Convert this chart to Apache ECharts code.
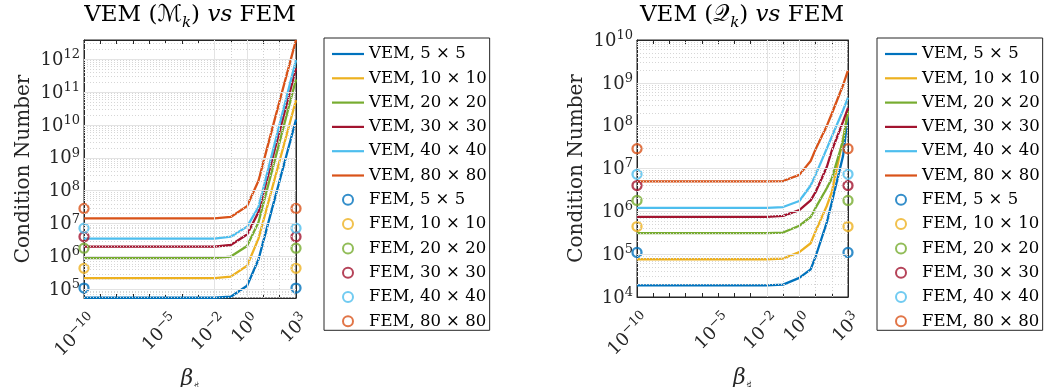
<!DOCTYPE html>
<html>
<head>
<meta charset="utf-8">
<script src="https://cdn.jsdelivr.net/npm/echarts@6/dist/echarts.min.js"></script>
<style>
  html, body { margin: 0; padding: 0; background: #fff; }
  #chart { width: 1045px; height: 387px; }
</style>
</head>
<body>
<div id="chart"></div>
<script>
// beta values on the x axis
const beta = [1e-10, 1e-2, 1e-1, 1, 5, 10, 50, 100, 500, 1000];
const meshes = ['5 × 5', '10 × 10', '20 × 20', '30 × 30', '40 × 40', '80 × 80'];
const colors = ['#0072BD', '#EDB120', '#77AC30', '#A2142F', '#4DBEEE', '#D95319'];

// VEM (M_k) condition numbers
const vemM5 = [5.6e4, 5.6e4, 6.0e4, 1.3e5, 8.1e5, 2.95e6, 5.75e7, 2.05e8, 4.0e9, 1.45e10];
const vemM10 = [2.2e5, 2.2e5, 2.45e5, 5.25e5, 3.5e6, 1.23e7, 2.35e8, 8.3e8, 1.6e10, 5.6e10];
const vemM20 = [8.9e5, 8.9e5, 1.0e6, 2.1e6, 1.1e7, 4.1e7, 8.5e8, 3.1e9, 6.5e10, 2.4e11];
const vemM30 = [2.0e6, 2.0e6, 2.24e6, 4.7e6, 2.24e7, 8.3e7, 1.8e9, 6.6e9, 1.4e11, 5.25e11];
const vemM40 = [3.5e6, 3.5e6, 4.0e6, 8.1e6, 3.2e7, 1.2e8, 2.75e9, 1.07e10, 2.45e11, 9.3e11];
const vemM80 = [1.45e7, 1.45e7, 1.6e7, 3.4e7, 2.0e8, 7.4e8, 1.5e10, 5.4e10, 1.05e12, 3.8e12];

// VEM (Q_k) condition numbers
const vemQ5 = [1.86e4, 1.86e4, 1.95e4, 2.8e4, 4.4e4, 8.7e4, 5.6e5, 1.6e6, 2.0e7, 1.8e8];
const vemQ10 = [7.6e4, 7.6e4, 7.9e4, 1.12e5, 1.8e5, 3.4e5, 1.35e6, 2.8e6, 5.0e7, 2.0e8];
const vemQ20 = [3.1e5, 3.1e5, 3.2e5, 4.6e5, 7.4e5, 1.2e6, 3.5e6, 5.8e6, 4.5e7, 2.25e8];
const vemQ30 = [7.4e5, 7.4e5, 7.8e5, 1.07e6, 1.8e6, 2.8e6, 1.1e7, 2.6e7, 1.26e8, 2.6e8];
const vemQ40 = [1.2e6, 1.2e6, 1.26e6, 1.74e6, 4.0e6, 7.1e6, 2.95e7, 5.5e7, 2.3e8, 4.5e8];
const vemQ80 = [5.0e6, 5.0e6, 5.1e6, 7.1e6, 1.5e7, 2.8e7, 1.0e8, 1.9e8, 8.9e8, 1.95e9];

// FEM condition numbers (same in both panels), shown at both ends
const femBeta = [1e-10, 1e3];
const fem = [1.1e5, 4.4e5, 1.8e6, 4.0e6, 7.3e6, 2.9e7];

// exponents that get a label on the x axis
const xTickExp = [-10, -5, -2, 0, 3];

const FONT = 'DejaVu Serif';
const TXT = '#262626';
const AX = '#262626';

const vemM = [vemM5, vemM10, vemM20, vemM30, vemM40, vemM80];
const vemQ = [vemQ5, vemQ10, vemQ20, vemQ30, vemQ40, vemQ80];

// 10^n labels: superscript raised with bottom padding
const tickRich = {
    b: { fontFamily: FONT, fontSize: 18, color: TXT, verticalAlign: 'bottom', lineHeight: 20 },
    s: { fontFamily: FONT, fontSize: 13, color: TXT, verticalAlign: 'bottom', lineHeight: 14, padding: [0, 0, 8, 0] }
};

function powLabel(v, keep) {
    const e = Math.log10(v);
    const r = Math.round(e);
    if (Math.abs(e - r) > 1e-6) return '';
    if (keep && keep.indexOf(r) < 0) return '';
    return '{b|10}{s|' + (r < 0 ? '−' + (-r) : r) + '}';
}

// light grid lines: solid at labelled x decades / y decades, dotted elsewhere
function gridLines(ymin, ymax) {
    const lines = [];
    for (let e = -9; e <= 2; e++) {
        const major = xTickExp.indexOf(e) >= 0;
        lines.push({
            xAxis: Math.pow(10, e),
            lineStyle: major ? { color: '#e3e3e3', width: 1, type: 'solid' } : { color: '#cfcfcf', width: 1, type: [1, 2] }
        });
    }
    const e0 = Math.floor(Math.log10(ymin));
    const e1 = Math.ceil(Math.log10(ymax));
    for (let e = e0; e <= e1; e++) {
        for (let m = 1; m <= 9; m++) {
            const v = m * Math.pow(10, e);
            if (v <= ymin * 1.001 || v >= ymax * 0.999) continue;
            lines.push({
                yAxis: v,
                lineStyle: m === 1 ? { color: '#e3e3e3', width: 1, type: 'solid' } : { color: '#d6d6d6', width: 1, type: [1, 2] }
            });
        }
    }
    return lines;
}

const panels = [
    { left: 84, width: 212, height: 258, ymin: 5.5e4, ymax: 3.8e12, vem: vemM, cx: 190,
      title: '{r|VEM (}{m|ℳ}{k|k}{r|) }{i|vs}{r| FEM}' },
    { left: 637, width: 211, height: 257, ymin: 1e4, ymax: 1e10, vem: vemQ, cx: 742,
      title: '{r|VEM (}{m|𝒬}{k|k}{r|) }{i|vs}{r| FEM}' }
];

const grids = [], xAxes = [], yAxes = [], series = [], graphics = [];
const legendData = [];
meshes.forEach(m => legendData.push({ name: 'VEM, ' + m, icon: 'path://M0,0 H32 V2.2 H0 Z' }));
meshes.forEach(m => legendData.push({ name: 'FEM, ' + m }));

panels.forEach((p, g) => {
    grids.push({
        left: p.left, top: 40, width: p.width, height: p.height, outerBoundsMode: 'none',
        show: true, borderColor: AX, borderWidth: 1, backgroundColor: '#fff'
    });
    const xi = xAxes.length, yi = yAxes.length;
    xAxes.push({
        type: 'log', logBase: 10, gridIndex: g, min: 1e-10, max: 1e3, interval: 1, position: 'bottom',
        axisLine: { lineStyle: { color: AX } },
        axisTick: { inside: true, length: 4, lineStyle: { color: AX } },
        axisLabel: { rotate: 45, margin: 10, padding: [26, 0, 0, 0], formatter: v => powLabel(v, xTickExp), rich: tickRich },
        splitLine: { show: false },
        name: '{i|β}{s|♯}', nameLocation: 'middle', nameGap: 72, nameMoveOverlap: false,
        nameTextStyle: { rich: {
            i: { fontFamily: FONT, fontStyle: 'italic', fontSize: 22, color: TXT, verticalAlign: 'bottom', lineHeight: 24, padding: [0, 0, 4, 0] },
            s: { fontFamily: FONT, fontSize: 13, color: TXT, verticalAlign: 'bottom', lineHeight: 14 }
        } }
    });
    xAxes.push({
        type: 'log', logBase: 10, gridIndex: g, min: 1e-10, max: 1e3, interval: 1, position: 'top',
        axisLine: { lineStyle: { color: AX } },
        axisTick: { inside: true, length: 4, lineStyle: { color: AX } },
        axisLabel: { show: false }, splitLine: { show: false }
    });
    yAxes.push({
        type: 'log', logBase: 10, gridIndex: g, min: p.ymin, max: p.ymax, position: 'left',
        axisLine: { lineStyle: { color: AX } },
        axisTick: { inside: true, length: 4, lineStyle: { color: AX } },
        axisLabel: { margin: 4, formatter: v => powLabel(v), rich: tickRich },
        splitLine: { show: false },
        name: 'Condition Number', nameLocation: 'middle', nameGap: 50, nameMoveOverlap: false,
        nameTextStyle: { fontFamily: FONT, fontSize: 20, color: TXT }
    });
    yAxes.push({
        type: 'log', logBase: 10, gridIndex: g, min: p.ymin, max: p.ymax, position: 'right',
        axisLine: { lineStyle: { color: AX } },
        axisTick: { inside: true, length: 4, lineStyle: { color: AX } },
        axisLabel: { show: false }, splitLine: { show: false }
    });

    // background grid
    series.push({
        type: 'line', name: 'grid' + g, xAxisIndex: xi, yAxisIndex: yi, data: [], z: 1, silent: true,
        markLine: { silent: true, symbol: ['none', 'none'], label: { show: false }, animation: false, data: gridLines(p.ymin, p.ymax) }
    });

    meshes.forEach((m, i) => {
        series.push({
            type: 'line', name: 'VEM, ' + m, xAxisIndex: xi, yAxisIndex: yi, z: 3,
            data: beta.map((b, j) => [b, p.vem[i][j]]),
            symbol: 'none', color: colors[i],
            lineStyle: { color: colors[i], width: 2.3 }
        });
    });
    meshes.forEach((m, i) => {
        series.push({
            type: 'scatter', name: 'FEM, ' + m, xAxisIndex: xi, yAxisIndex: yi, z: 4, clip: false,
            data: femBeta.map(b => [b, fem[i]]),
            symbol: 'circle', symbolSize: 9,
            itemStyle: { color: 'rgba(255,255,255,0)', borderColor: colors[i], borderWidth: 2.3 }
        });
    });

    graphics.push({
        type: 'text', x: p.cx, y: 18,
        style: {
            text: p.title, align: 'center', verticalAlign: 'middle',
            rich: {
                r: { fontFamily: FONT, fontSize: 23, fill: '#000', verticalAlign: 'bottom', lineHeight: 26, padding: [0, 0, 4, 0] },
                m: { fontFamily: FONT + ', DejaVu Sans, Noto Sans', fontSize: 23, fill: '#000', verticalAlign: 'bottom', lineHeight: 26, padding: [0, 0, 4, 0] },
                k: { fontFamily: FONT, fontStyle: 'italic', fontSize: 15, fill: '#000', verticalAlign: 'bottom', lineHeight: 16 },
                i: { fontFamily: FONT, fontStyle: 'italic', fontSize: 23, fill: '#000', verticalAlign: 'bottom', lineHeight: 26, padding: [0, 0, 4, 0] }
            }
        }
    });
});

function legendAt(left) {
    return {
        orient: 'vertical', left: left, top: 38, data: legendData, selectedMode: false,
        itemWidth: 32, itemHeight: 10, itemGap: 6.3, padding: [7, 3, 0, 8],
        borderColor: AX, borderWidth: 1, backgroundColor: '#fff',
        textStyle: { fontFamily: FONT, fontSize: 16.5, color: '#000', lineHeight: 18 }
    };
}

const chart = echarts.init(document.getElementById('chart'));
chart.setOption({
    animation: false,
    backgroundColor: '#fff',
    grid: grids,
    xAxis: xAxes,
    yAxis: yAxes,
    legend: [legendAt(324), legendAt(877)],
    series: series,
    graphic: graphics
});
</script>
</body>
</html>
